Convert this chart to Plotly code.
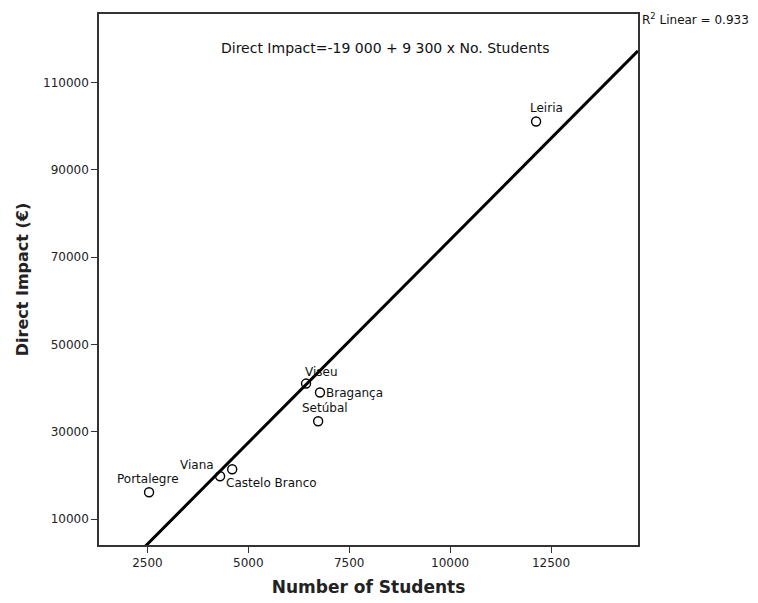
import plotly.graph_objects as go

# Data
institutions = ["Leiria", "Viseu", "Bragança", "Setúbal", "Viana", "Castelo Branco", "Portalegre"]
students = [12130, 6430, 6775, 6730, 4600, 4300, 2540]
direct_impact = [101100, 41050, 39000, 32400, 21400, 19800, 16150]

# Fitted line (as stated on chart): Direct Impact = -19 000 + 9.3 x students
fit_intercept = -19000
fit_slope = 9.3
fit_x = [1300, 14655]
fit_y = [fit_intercept + fit_slope * v for v in fit_x]

x_ticks = [2500, 5000, 7500, 10000, 12500]
y_ticks = [10000, 30000, 50000, 70000, 90000, 110000]

# label placement per institution (xanchor, yanchor, xshift, yshift)
label_pos = {
    "Leiria": ("center", "middle", 10, 14),
    "Viseu": ("left", "middle", -3, 12),
    "Bragança": ("left", "middle", 4, 0),
    "Setúbal": ("center", "middle", 7, 13),
    "Viana": ("right", "middle", -16, 4),
    "Castelo Branco": ("left", "middle", 4, -7),
    "Portalegre": ("center", "middle", -1, 13),
}

FONT = "DejaVu Sans"

fig = go.Figure()
fig.add_trace(go.Scatter(x=fit_x, y=fit_y, mode="lines",
                         line=dict(color="black", width=3), hoverinfo="skip",
                         showlegend=False))
fig.add_trace(go.Scatter(x=students, y=direct_impact, mode="markers",
                         marker=dict(symbol="circle-open", size=9, color="black",
                                     line=dict(width=1.4, color="black")),
                         showlegend=False))

for name, xv, yv in zip(institutions, students, direct_impact):
    xa, ya, xs, ys = label_pos[name]
    fig.add_annotation(x=xv, y=yv, text=name, showarrow=False,
                       xanchor=xa, yanchor=ya, xshift=xs, yshift=ys,
                       font=dict(family=FONT, size=12, color="#111"))

fig.add_annotation(xref="paper", yref="paper", x=0.532, y=0.936,
                   text="Direct Impact=-19 000 + 9 300 x No. Students",
                   showarrow=False, xanchor="center", yanchor="middle",
                   font=dict(family=FONT, size=14, color="#111"))
fig.add_annotation(xref="paper", yref="paper", x=1.003, y=0.99,
                   text="R<sup>2</sup> Linear = 0.933",
                   showarrow=False, xanchor="left", yanchor="middle",
                   font=dict(family=FONT, size=12, color="#111"))

# the page body adds an 8px margin; the figure is sized to compensate
fig.update_layout(
    width=750, height=595,
    margin=dict(l=91, r=120, t=4, b=58),
    plot_bgcolor="white", paper_bgcolor="white",
    font=dict(family=FONT, color="#222"),
    xaxis=dict(range=[1300, 14655], tickvals=x_ticks,
               ticktext=[str(v) for v in x_ticks],
               showgrid=False, zeroline=False, showline=True, mirror=True,
               linecolor="#333", linewidth=1.5, ticks="outside", ticklen=6,
               tickcolor="#333", tickfont=dict(family=FONT, size=12, color="#222"),
               title=dict(text="<b>Number of Students</b>", standoff=12,
                          font=dict(family=FONT, size=17, color="#222"))),
    yaxis=dict(range=[4050, 125750], tickvals=y_ticks,
               ticktext=[str(v) for v in y_ticks],
               showgrid=False, zeroline=False, showline=True, mirror=True,
               linecolor="#333", linewidth=1.5, ticks="outside", ticklen=6,
               tickcolor="#333", tickfont=dict(family=FONT, size=12, color="#222"),
               title=dict(text="<b>Direct Impact (€)</b>", standoff=10,
                          font=dict(family=FONT, size=16, color="#222"))),
)

fig.write_html("out.html")
